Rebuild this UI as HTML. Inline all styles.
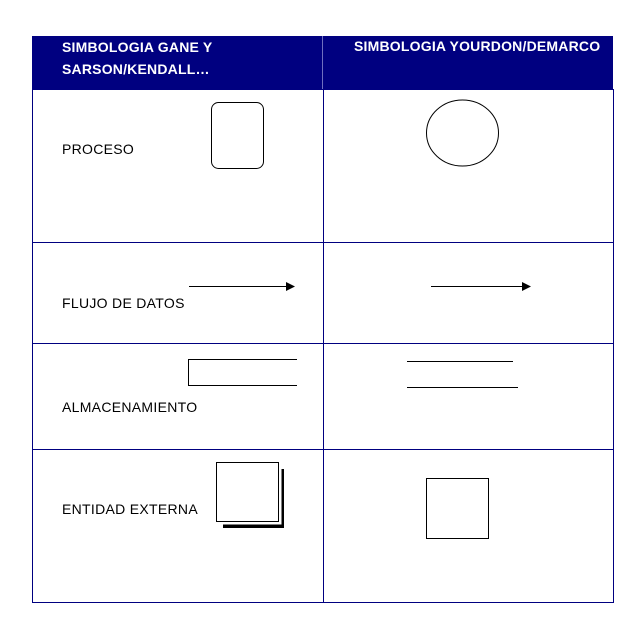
<!DOCTYPE html>
<html><head><meta charset="utf-8"><style>
body{margin:0;width:637px;height:621px;background:#fff;position:relative;font-family:"Liberation Sans",Arial,sans-serif;overflow:hidden}
.a{position:absolute}
.t{font-size:14px;color:#000;white-space:nowrap;letter-spacing:0.3px}
.h{font-size:14px;font-weight:bold;color:#fff;white-space:nowrap;letter-spacing:0.2px}
</style></head><body>
<div class="a" style="left:32px;top:36px;width:581px;height:53px;background:#000080"></div>
<div class="a" style="left:322px;top:36px;width:1px;height:53px;background:#6f6fbf"></div>
<div class="a h" style="left:62px;top:36px;line-height:22px">SIMBOLOGIA GANE Y<br>SARSON/KENDALL…</div>
<div class="a h" style="left:354px;top:38px;line-height:16px">SIMBOLOGIA YOURDON/DEMARCO</div>
<svg class="a" style="left:0;top:0" width="637" height="621">
<g stroke="#000080" stroke-width="1" fill="none">
<line x1="32.5" y1="36" x2="32.5" y2="602.5"/>
<line x1="613.5" y1="89" x2="613.5" y2="602.5"/>
<line x1="323.5" y1="89" x2="323.5" y2="602.5"/>
<line x1="32" y1="89.5" x2="614" y2="89.5"/>
<line x1="32" y1="242.5" x2="614" y2="242.5"/>
<line x1="32" y1="343.5" x2="614" y2="343.5"/>
<line x1="32" y1="449.5" x2="614" y2="449.5"/>
<line x1="32" y1="602.5" x2="614" y2="602.5"/>
</g>
<g stroke="#000" fill="none" stroke-width="1">
<rect x="211.5" y="102.5" width="52" height="66" rx="7"/>
<ellipse cx="462.5" cy="133" rx="36" ry="33"/>
<line x1="189" y1="286.5" x2="287" y2="286.5"/>
<line x1="431" y1="286.5" x2="523" y2="286.5"/>
<path d="M297 359.5 H188.5 V385.5 H297"/>
<line x1="407" y1="361.5" x2="513" y2="361.5"/>
<line x1="407" y1="387.5" x2="518" y2="387.5"/>
<rect x="223" y="469" width="61" height="59" fill="#000" stroke="none"/>
<rect x="222.5" y="468.5" width="59" height="56" fill="#fff" stroke="none"/>
<rect x="216.5" y="462.5" width="62" height="59" fill="#fff"/>
<rect x="426.5" y="478.5" width="62" height="60"/>
</g>
<polygon points="286,282 295,286.5 286,291" fill="#000"/>
<polygon points="522,282 531,286.5 522,291" fill="#000"/>
</svg>
<div class="a t" style="left:62px;top:141px">PROCESO</div>
<div class="a t" style="left:62px;top:295px">FLUJO DE DATOS</div>
<div class="a t" style="left:62px;top:399px">ALMACENAMIENTO</div>
<div class="a t" style="left:62px;top:501px">ENTIDAD EXTERNA</div>
</body></html>
